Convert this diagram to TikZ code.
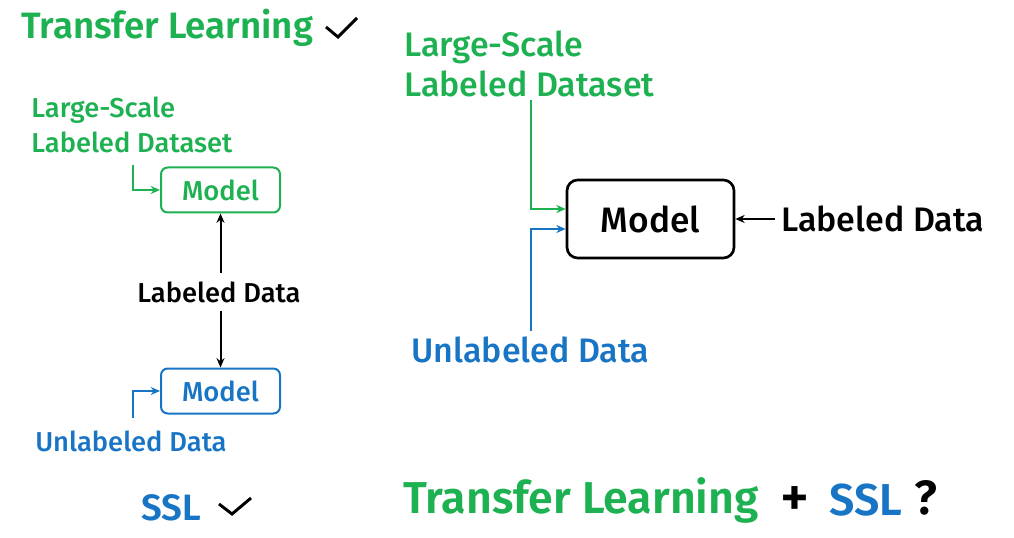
\documentclass[tikz,border=0pt]{standalone}
\usepackage{fontspec}
\setmainfont{Fira Sans}[UprightFont={* Medium}, BoldFont={* SemiBold}]
\usetikzlibrary{positioning,arrows.meta}
\definecolor{tlgreen}{RGB}{29,177,82}
\definecolor{sslblue}{RGB}{24,116,196}
\begin{document}
\begin{tikzpicture}[x=0.75pt,y=-0.75pt,
		lbl/.style={inner sep=0pt, font=\fontsize{20.5}{26}\selectfont, align=left},
		big/.style={inner sep=0pt, font=\fontsize{25.5}{29.5}\selectfont, align=left},
		title/.style={inner sep=0pt, font=\fontsize{27.5}{30}\selectfont\bfseries},
		tick/.style={line width=2.2pt, line join=miter},
		modelbox/.style={draw, rounded corners=5pt, line width=1.5pt, minimum width=89.25pt, minimum height=33.75pt, font=\fontsize{20.5}{24}\selectfont},
		feed/.style={line width=1.5pt, -{Stealth[length=7pt,width=6pt]}}]
	\useasboundingbox (0,0) rectangle (1014,538);
	\node[title, tlgreen, anchor=west] (tltop) at (21,28) {Transfer Learning};
	\draw[tick] (326,27) -- (338,37) -- (357,18);
	\node[lbl, tlgreen, anchor=west] (lsleft) at (31,125) {Large-Scale\\Labeled Dataset};
	\node[modelbox, tlgreen] (mtop) at (220.5,190) {Model};
	\node[lbl, anchor=center] (ldleft) at (219,292) {Labeled Data};
	\node[modelbox, sslblue] (mbot) at (220.5,391) {Model};
	\node[lbl, sslblue, anchor=west] (udleft) at (35,441) {Unlabeled Data};
	\node[title, sslblue, anchor=west] (ssl) at (141,508) {SSL};
	\draw[tick] (219,504) -- (232,514) -- (251,498);
	\coordinate (gl) at (133,165);
	\coordinate (bl) at (133,418);
	\draw[feed, tlgreen] (gl) |- (mtop.west);
	\draw[feed, sslblue] (bl) |- (mbot.west);
	\draw[feed, black] (ldleft.north -| mtop.south) ++(0,-8) -- (mtop.south);
	\draw[feed, black] (ldleft.south -| mbot.north) ++(0,8) -- (mbot.north);
	\node[big, tlgreen, anchor=west] (lsright) at (404,64) {Large-Scale\\Labeled Dataset};
	\node[modelbox, black, minimum width=125.25pt, minimum height=58.5pt, rounded corners=8pt, line width=2pt, font=\fontsize{26.5}{30}\selectfont] (mright) at (650.5,219) {Model};
	\node[big, anchor=west] (ldright) at (781,219) {Labeled Data};
	\node[big, sslblue, anchor=west] (udright) at (411,350) {Unlabeled Data};
	\coordinate (gr) at (531,100);
	\coordinate (br) at (531,331);
	\draw[feed, tlgreen] (gr) |- ([yshift=7.5pt]mright.west);
	\draw[feed, sslblue] (br) |- ([yshift=-7.5pt]mright.west);
	\draw[feed, black, line width=2pt] (ldright.west) ++(-6,0) -- (mright.east);
	\node[title, tlgreen, anchor=west, font=\fontsize{33.5}{40}\selectfont\bfseries] (tlbot) at (403,500) {Transfer Learning};
	\node[title, anchor=center, font=\fontsize{42}{44}\selectfont\mdseries] (plus) at (795,502) {+};
	\node[title, sslblue, anchor=west, font=\fontsize{33.5}{40}\selectfont\bfseries] (sslbot) at (829,500) {SSL};
	\node[title, anchor=center, font=\fontsize{36}{40}\selectfont\bfseries] (qmark) at (926,498) {?};
\end{tikzpicture}
\end{document}
